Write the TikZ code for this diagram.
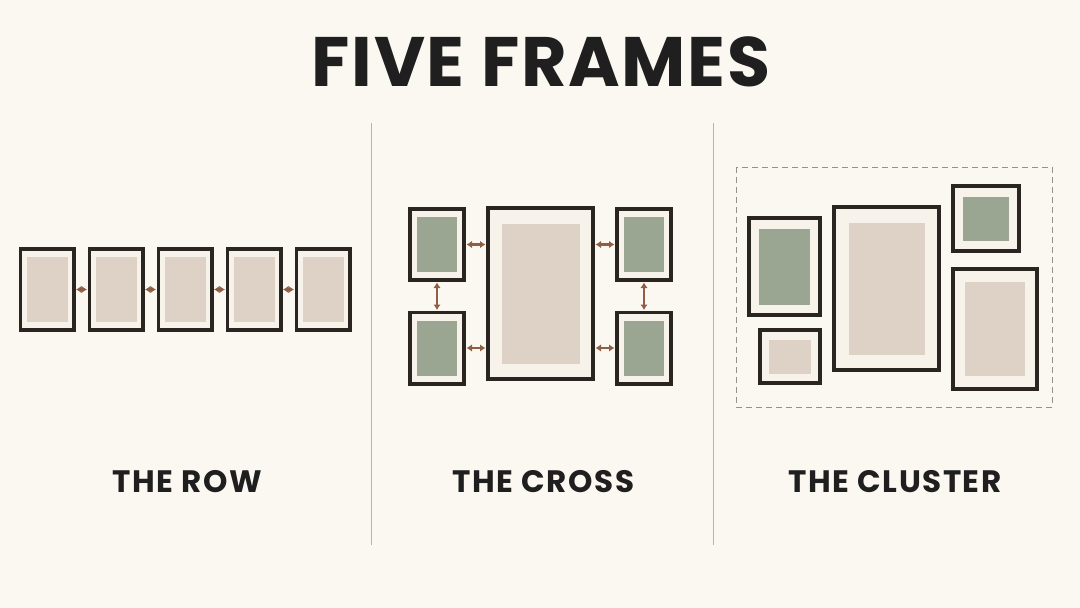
\documentclass[tikz,border=0pt]{standalone}
\usepackage{fontspec}
\setmainfont{Poppins}
\usetikzlibrary{arrows.meta,shadows}
\definecolor{wall}{HTML}{FBF8F2}
\definecolor{wood}{HTML}{2A2521}
\definecolor{mat}{HTML}{F8F3EA}
\definecolor{sand}{HTML}{DDD2C5}
\definecolor{sage}{HTML}{9BA692}
\definecolor{rust}{HTML}{8E5E45}
\definecolor{divider}{HTML}{B9B4AC}
\begin{document}
\begin{tikzpicture}[x=1pt,y=-1pt,
        frame/.style={draw=wood, line width=3.8pt, fill=mat, inner sep=0pt, drop shadow={opacity=0.12, shadow xshift=1.5pt, shadow yshift=-2pt}},
        photo/.style={fill=#1, inner sep=0pt},
        gap/.style={{Latex[length=5.5pt,width=7.5pt]}-{Latex[length=5.5pt,width=7.5pt]}, draw=rust, line width=2.3pt, shorten <=0.5pt, shorten >=0.5pt},
        caption/.style={font=\bfseries\fontsize{31}{31}\selectfont\addfontfeatures{LetterSpace=5}, text=black!88}]
        \fill[wall] (0,0) rectangle (1080,608);
        \useasboundingbox (0,0) rectangle (1080,608);
        \node[font=\bfseries\fontsize{70}{70}\selectfont\addfontfeatures{LetterSpace=2.4}, text=black!88] (title) at (541,62) {FIVE FRAMES};
        \draw[divider, line width=1pt] (371,123) -- (371,545);
        \draw[divider, line width=1pt] (713,123) -- (713,545);
        \foreach \i in {1,...,5} {
                \node[frame, minimum width=53.2pt, minimum height=81.2pt] (r\i) at (47+69*\i-69,289.5) {};
                \node[photo=sand, minimum width=41pt, minimum height=65pt] at (r\i) {};
        }
        \foreach \a/\b in {1/2,2/3,3/4,4/5}
                \draw[gap] (r\a.east) -- (r\b.west);
        \node[caption] (rowtext) at (187,482) {THE ROW};
        \node[frame, minimum width=54.2pt, minimum height=71.2pt] (tl) at (437,244.5) {};
        \node[frame, minimum width=54.2pt, minimum height=71.2pt] (bl) at (437,348) {};
        \node[frame, minimum width=54.2pt, minimum height=71.2pt] (tr) at (644,244.5) {};
        \node[frame, minimum width=54.2pt, minimum height=71.2pt] (br) at (644,348) {};
        \node[frame, minimum width=105.2pt, minimum height=171.2pt] (mid) at (540.5,293.5) {};
        \node[photo=sage, minimum width=40pt, minimum height=55pt] at (tl) {};
        \node[photo=sage, minimum width=40pt, minimum height=55pt] at (bl) {};
        \node[photo=sage, minimum width=40pt, minimum height=55pt] at (tr) {};
        \node[photo=sage, minimum width=40pt, minimum height=55pt] at (br) {};
        \node[photo=sand, minimum width=78pt, minimum height=140pt] at (mid) {};
        \draw[gap] (tl.east) -- (tl.east -| mid.west);
        \draw[gap] (bl.east) -- (bl.east -| mid.west);
        \draw[gap] (tr.west) -- (tr.west -| mid.east);
        \draw[gap] (br.west) -- (br.west -| mid.east);
        \draw[gap] (tl.south) -- (bl.north);
        \draw[gap] (tr.south) -- (br.north);
        \node[caption] (crosstext) at (543.5,482) {THE CROSS};
        \draw[divider!80!black, line width=1pt, dash pattern=on 6pt off 4pt] (736,167) rectangle (1052,407);
        \node[frame, minimum width=71.2pt, minimum height=97.2pt] (ca) at (784.5,266.5) {};
        \node[frame, minimum width=60.2pt, minimum height=53.2pt] (cb) at (790,356.5) {};
        \node[frame, minimum width=105.2pt, minimum height=163.2pt] (cc) at (886.5,288.5) {};
        \node[frame, minimum width=66.2pt, minimum height=65.2pt] (cd) at (986,218.5) {};
        \node[frame, minimum width=84.2pt, minimum height=120.2pt] (ce) at (995,329) {};
        \node[photo=sage, minimum width=51pt, minimum height=76pt] at (ca) {};
        \node[photo=sand, minimum width=42pt, minimum height=34pt] at (cb) {};
        \node[photo=sand, minimum width=76pt, minimum height=132pt] at (cc) {};
        \node[photo=sage, minimum width=46pt, minimum height=44pt] at (cd) {};
        \node[photo=sand, minimum width=60pt, minimum height=94pt] at (ce) {};
        \node[caption] (clustertext) at (895,482) {THE CLUSTER};
\end{tikzpicture}
\end{document}
